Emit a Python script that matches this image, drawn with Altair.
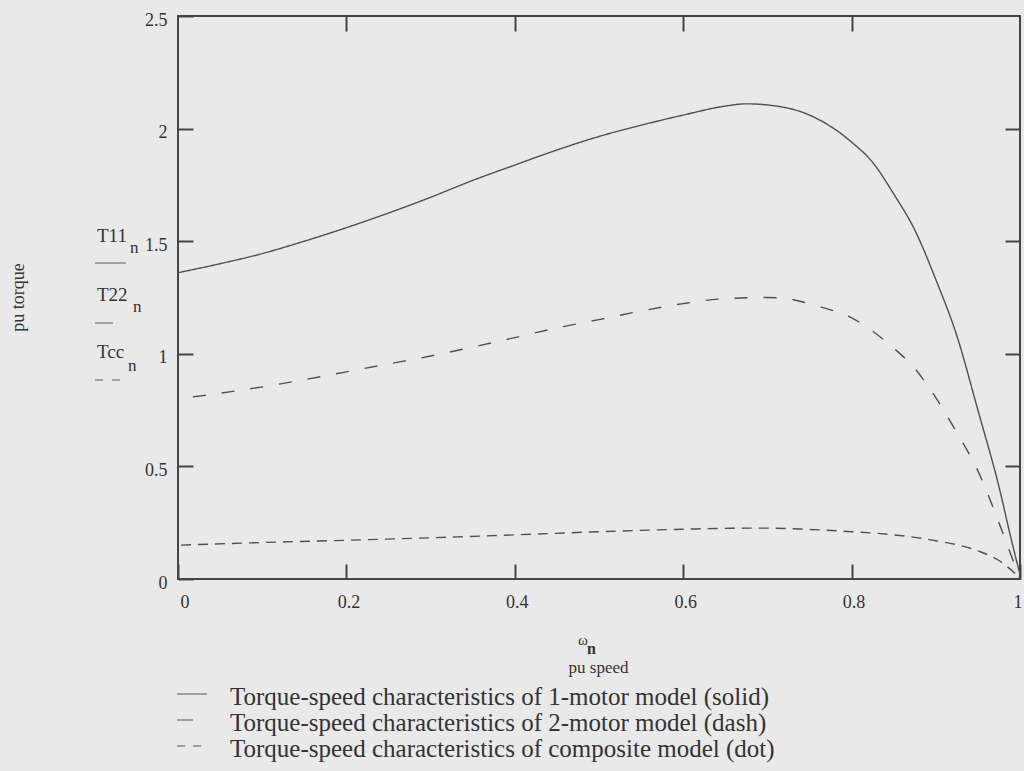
import altair as alt
import pandas as pd

# ---- data ----
speed_11 = [0.0, 0.05, 0.1, 0.15, 0.2, 0.25, 0.3, 0.35, 0.4, 0.45, 0.5, 0.55, 0.6, 0.65, 0.675,
            0.7, 0.75, 0.8, 0.825, 0.85, 0.875, 0.9, 0.925, 0.95, 0.975, 0.99, 1.0]
torque_11 = [1.36, 1.40, 1.445, 1.50, 1.56, 1.625, 1.695, 1.77, 1.838, 1.905, 1.965, 2.015, 2.06, 2.10, 2.11,
             2.105, 2.06, 1.94, 1.85, 1.71, 1.55, 1.33, 1.08, 0.75, 0.41, 0.17, 0.02]

speed_22 = [0.0, 0.05, 0.1, 0.15, 0.2, 0.25, 0.3, 0.35, 0.4, 0.45, 0.5, 0.55, 0.6, 0.65, 0.7,
            0.725, 0.75, 0.775, 0.8, 0.825, 0.85, 0.875, 0.9, 0.925, 0.95, 0.975, 0.99, 1.0]
torque_22 = [0.80, 0.825, 0.853, 0.885, 0.92, 0.955, 0.99, 1.03, 1.072, 1.115, 1.152, 1.19, 1.223, 1.245, 1.25,
             1.244, 1.222, 1.195, 1.16, 1.10, 1.025, 0.935, 0.805, 0.65, 0.48, 0.25, 0.10, 0.0]

speed_cc = [0.0, 0.1, 0.2, 0.3, 0.4, 0.5, 0.6, 0.65, 0.7, 0.75, 0.8, 0.85, 0.9, 0.95, 0.975, 1.0]
torque_cc = [0.15, 0.162, 0.172, 0.183, 0.196, 0.21, 0.221, 0.225, 0.226, 0.22, 0.21, 0.196, 0.17, 0.125, 0.082, 0.005]

series_names = [
    "Torque-speed characteristics of 1-motor model (solid)",
    "Torque-speed characteristics of 2-motor model (dash)",
    "Torque-speed characteristics of composite model (dot)",
]
x_tick_values = [0, 0.2, 0.4, 0.6, 0.8, 1]
y_tick_values = [0, 0.5, 1, 1.5, 2, 2.5]
x_inner_ticks = [0.2, 0.4, 0.6, 0.8]
y_inner_ticks = [0.5, 1, 1.5, 2]


def frame(pairs):
    out = []
    for xs, ys, name in pairs:
        for a, b in zip(xs, ys):
            out.append({"speed": a, "torque": b, "series": name})
    return pd.DataFrame(out)


df_main = frame([(speed_11, torque_11, series_names[0]), (speed_22, torque_22, series_names[1])])
df_cc = frame([(speed_cc, torque_cc, series_names[2])])

W, H = 842, 563
FONT = "Liberation Serif"
INK = "#333333"
LINE = "#505050"
FRAME = "#444444"
SAMPLE = "#8a8a8a"
BG = "#e9e9e9"
TL = 15  # inner tick length, px

xscale = alt.Scale(domain=[0, 1], nice=False, zero=False)
yscale = alt.Scale(domain=[0, 2.5], nice=False, zero=False)
dash = alt.StrokeDash("series:N",
                      scale=alt.Scale(domain=series_names, range=[[1, 0], [13, 16], [10, 7]]),
                      legend=None)
line_style = dict(color=LINE, strokeWidth=1.4, strokeDashOffset=14, interpolate="monotone")
tick_axis = dict(ticks=True, tickSize=TL, tickColor=FRAME, tickWidth=2, offset=-TL, domain=False)

# main curves with the labelled bottom/left axes (ticks turned inward via offset)
curves_main = alt.Chart(df_main).mark_line(**line_style).encode(
    x=alt.X("speed:Q", scale=xscale,
            axis=alt.Axis(orient="bottom", values=x_tick_values, format="~g", title="pu speed",
                          titleX=420, titleY=88 + TL, titleFontSize=17, titleFont=FONT,
                          titleFontWeight="normal", titleColor=INK, titleBaseline="middle",
                          labelOffset=2, labelPadding=14, labelFlush=True, **tick_axis)),
    y=alt.Y("torque:Q", scale=yscale,
            axis=alt.Axis(orient="left", values=y_tick_values, format="~g", title="pu torque",
                          titleX=-160 - TL, titleY=281, titleAngle=270, titleFontSize=18, titleFont=FONT,
                          titleFontWeight="normal", titleColor=INK, titleBaseline="middle",
                          titleAlign="center", labelOffset=4, labelPadding=11, labelFlush=False,
                          **tick_axis)),
    strokeDash=dash,
    detail="series:N",
    order="speed:Q",
)

# composite curve carries the unlabelled top/right axes (inner ticks only)
curves_cc = alt.Chart(df_cc).mark_line(**line_style).encode(
    x=alt.X("speed:Q", scale=xscale,
            axis=alt.Axis(orient="top", values=x_inner_ticks, labels=False, title=None, **tick_axis)),
    y=alt.Y("torque:Q", scale=yscale,
            axis=alt.Axis(orient="right", values=y_inner_ticks, labels=False, title=None, **tick_axis)),
    strokeDash=dash,
    detail="series:N",
    order="speed:Q",
)

one = pd.DataFrame({"k": [0]})


def label(text, x, y, size, weight="normal"):
    return alt.Chart(one).mark_text(text=text, font=FONT, fontSize=size, fontWeight=weight,
                                    color=INK, align="left", baseline="middle").encode(
        x=alt.value(x), y=alt.value(y))


def sample(x1, x2, y, dash=None):
    kw = dict(color=SAMPLE, strokeWidth=1.5)
    if dash is not None:
        kw["strokeDash"] = dash
    return alt.Chart(one).mark_rule(**kw).encode(x=alt.value(x1), x2=alt.value(x2), y=alt.value(y))


annotations = [
    # left-hand trace labels
    label("T11", -81, 220, 19), label("n", -48, 232, 17), sample(-83, -52, 247),
    label("T22", -81, 279, 19), label("n", -45, 291, 17), sample(-83, -65, 307),
    label("Tcc", -81, 336, 19), label("n", -50, 350, 17), sample(-83, -55, 364, [8, 9]),
    # x variable
    label("ω", 400, 624, 15), label("n", 409, 633, 16, "bold"),
    # bottom key
    sample(-1, 29, 678), label(series_names[0], 52, 681, 25),
    sample(-1, 15, 704), label(series_names[1], 52, 707, 25),
    sample(-1, 25, 730, [8, 8]), label(series_names[2], 52, 733, 25),
]

chart = alt.layer(curves_main, curves_cc, *annotations).resolve_axis(
    x="independent", y="independent"
).properties(
    width=W, height=H,
    padding={"left": 178, "top": 16, "right": 4, "bottom": 192},
    autosize=alt.AutoSizeParams(type="none"),
    background=BG,
).configure_view(
    stroke=FRAME, strokeWidth=2, fill=BG,
).configure_axis(
    grid=False, labelFont=FONT, labelFontSize=18, labelColor=INK, labelOverlap=False,
)

chart.save("out.html", embed_options={"renderer": "svg", "actions": False})
